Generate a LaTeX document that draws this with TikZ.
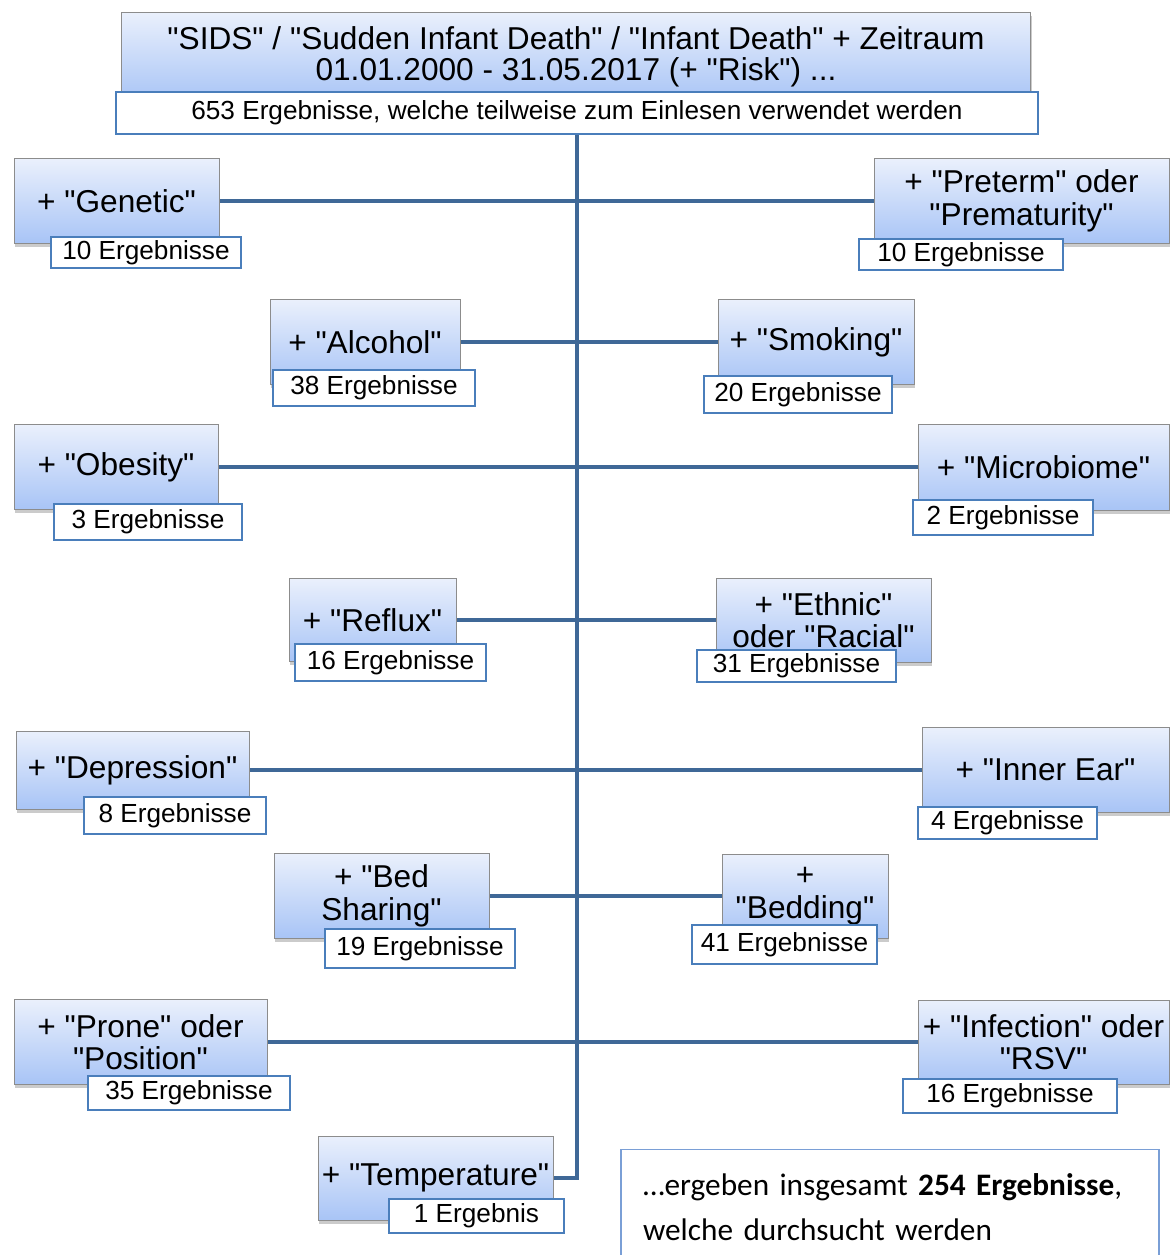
\documentclass[tikz,border=0pt]{standalone}
\usepackage{fontspec}
\setmainfont{Liberation Sans}[Ligatures=TeXOff]
\newfontfamily\notefont{Carlito}
\usetikzlibrary{shadows,backgrounds}
\definecolor{boxtop}{HTML}{EAF0FC}
\definecolor{boxbot}{HTML}{A8C4F6}
\definecolor{boxedge}{HTML}{8C8C8C}
\definecolor{countedge}{HTML}{4A7EBB}
\definecolor{trunk}{HTML}{3F6897}
\definecolor{noteedge}{HTML}{7A9FD6}
\tikzset{
  topic/.style={draw=boxedge, line width=0.5pt, top color=boxtop, bottom color=boxbot, align=center, inner sep=0pt,
    drop shadow={shadow xshift=0.6pt, shadow yshift=-2pt, fill=black!45, opacity=0.45},
    font=\fontsize{18}{18.5}\selectfont},
  count/.style={draw=countedge, line width=0.85pt, fill=white, inner sep=0pt, font=\fontsize{14.9}{16}\selectfont},
  link/.style={draw=trunk, line width=2.8pt},
  note/.style={draw=noteedge, line width=0.85pt, fill=white, align=left, inner sep=0pt, font=\notefont\fontsize{17.8}{25.5}\selectfont},
}
\begin{document}
\begin{tikzpicture}[x=0.02cm, y=-0.02cm]
  \useasboundingbox (0,0) rectangle (1174,1255);
  % search query
  \node[topic, minimum width=18.2cm, minimum height=1.8cm] (query) at (576,57) {"SIDS" / "Sudden Infant Death" / "Infant Death" + Zeitraum\\[-1pt]01.01.2000 - 31.05.2017 (+ "Risk") ...};
  \node[count, minimum width=18.44cm, minimum height=0.84cm] (c0) at (577,113) {653 Ergebnisse, welche teilweise zum Einlesen verwendet werden};
  % left column
  \node[topic, minimum width=4.1cm, minimum height=1.7cm] (genetic) at (116.5,201) {+ "Genetic"};
  \node[count, minimum width=3.8cm, minimum height=0.62cm] (cgenetic) at (146,252.5) {10 Ergebnisse};
  \node[topic, minimum width=3.8cm, minimum height=1.7cm] (alcohol) at (365,342) {+ "Alcohol"};
  \node[count, minimum width=4.04cm, minimum height=0.72cm] (calcohol) at (374,388) {38 Ergebnisse};
  \node[topic, minimum width=4.08cm, minimum height=1.7cm] (obesity) at (116,467) {+ "Obesity"};
  \node[count, minimum width=3.76cm, minimum height=0.72cm] (cobesity) at (148,522) {3 Ergebnisse};
  \node[topic, minimum width=3.34cm, minimum height=1.66cm] (reflux) at (372.5,620) {+ "Reflux"};
  \node[count, minimum width=3.82cm, minimum height=0.74cm] (creflux) at (390.5,662.5) {16 Ergebnisse};
  \node[topic, minimum width=4.66cm, minimum height=1.56cm] (depression) at (132.5,770) {+ "Depression"};
  \node[count, minimum width=3.64cm, minimum height=0.74cm] (cdepression) at (175,815.5) {8 Ergebnisse};
  \node[topic, minimum width=4.3cm, minimum height=1.7cm] (bedsharing) at (381.5,896) {+ "Bed\\Sharing"};
  \node[count, minimum width=3.8cm, minimum height=0.78cm] (cbedsharing) at (420,948.5) {19 Ergebnisse};
  \node[topic, minimum width=5.06cm, minimum height=1.7cm] (prone) at (140.5,1042) {+ "Prone" oder\\"Position"};
  \node[count, minimum width=4.04cm, minimum height=0.68cm] (cprone) at (189,1093) {35 Ergebnisse};
  \node[topic, minimum width=4.7cm, minimum height=1.68cm] (temperature) at (435.5,1178) {+ "Temperature"};
  \node[count, minimum width=3.5cm, minimum height=0.68cm] (ctemperature) at (476.5,1216) {1 Ergebnis};
  % right column
  \node[topic, minimum width=5.9cm, minimum height=1.7cm] (preterm) at (1021.5,201) {+ "Preterm" oder\\"Prematurity"};
  \node[count, minimum width=4.08cm, minimum height=0.62cm] (cpreterm) at (961,254.5) {10 Ergebnisse};
  \node[topic, minimum width=3.92cm, minimum height=1.7cm] (smoking) at (816,342) {+ "Smoking"};
  \node[count, minimum width=3.76cm, minimum height=0.74cm] (csmoking) at (798,394.5) {20 Ergebnisse};
  \node[topic, minimum width=5.02cm, minimum height=1.72cm] (microbiome) at (1043.5,467) {+ "Microbiome"};
  \node[count, minimum width=3.6cm, minimum height=0.7cm] (cmicrobiome) at (1003,517.5) {2 Ergebnisse};
  \node[topic, minimum width=4.3cm, minimum height=1.68cm] (ethnic) at (823.5,620) {+ "Ethnic"\\oder "Racial"};
  \node[count, minimum width=3.98cm, minimum height=0.64cm] (cethnic) at (796.5,666) {31 Ergebnisse};
  \node[topic, minimum width=4.94cm, minimum height=1.7cm] (innerear) at (1045.5,770) {+ "Inner Ear"};
  \node[count, minimum width=3.58cm, minimum height=0.64cm] (cinnerear) at (1007.5,823) {4 Ergebnisse};
  \node[topic, minimum width=3.32cm, minimum height=1.68cm] (bedding) at (805,896) {+\\"Bedding"};
  \node[count, minimum width=3.7cm, minimum height=0.78cm] (cbedding) at (784.5,944.5) {41 Ergebnisse};
  \node[topic, minimum width=5.02cm, minimum height=1.68cm] (infection) at (1043.5,1042) {+ "Infection" oder\\"RSV"};
  \node[count, minimum width=4.28cm, minimum height=0.68cm] (cinfection) at (1010,1096) {16 Ergebnisse};
  % total
  \node[note, minimum width=10.76cm, minimum height=2.3cm, text width=9.88cm] (total) at (890,1207) {…ergeben insgesamt \textbf{254 Ergebnisse},\\welche durchsucht werden};
  \begin{scope}[on background layer]
    \fill[white] (0,0) rectangle (1174,1255);
    \draw[link] (c0.south) |- (temperature.east);
    \foreach \a/\b in {genetic/preterm,alcohol/smoking,obesity/microbiome,reflux/ethnic,depression/innerear,bedsharing/bedding,prone/infection}
      \draw[link] (\a.east) -- (\b.west);
  \end{scope}
\end{tikzpicture}
\end{document}
